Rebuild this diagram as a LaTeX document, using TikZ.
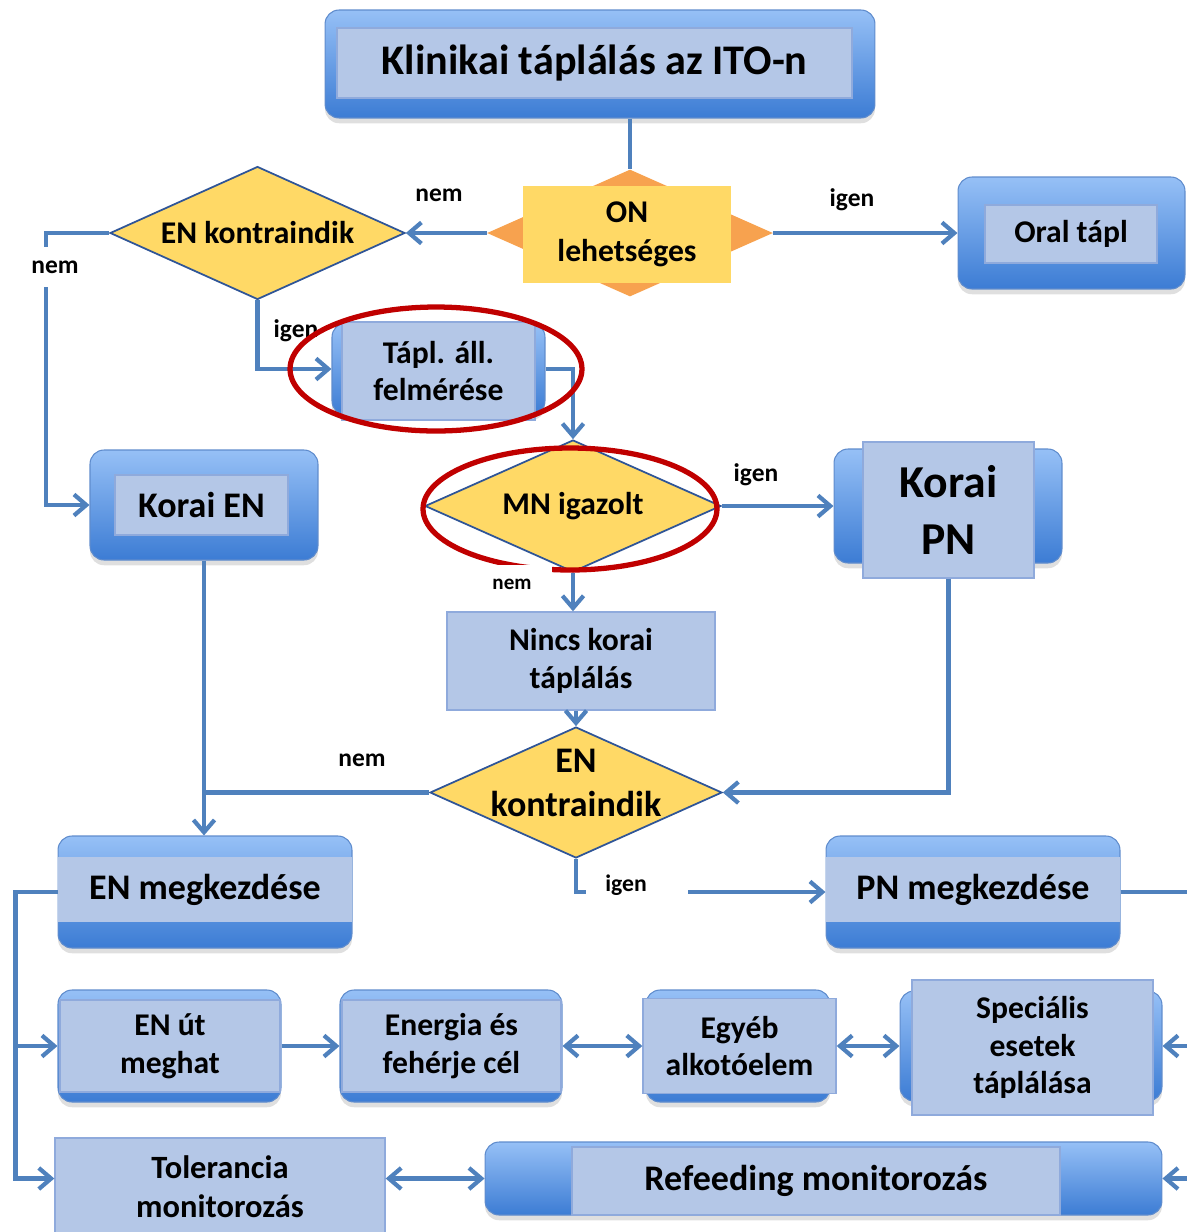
\documentclass[tikz,border=0pt]{standalone}
\usepackage{fontspec}
\setmainfont{Carlito}
\usetikzlibrary{arrows.meta,shapes.geometric,shadows}
\definecolor{linec}{RGB}{79,129,189}
\definecolor{boxtop}{RGB}{150,192,246}
\definecolor{boxbot}{RGB}{60,124,212}
\definecolor{boxline}{RGB}{95,140,205}
\definecolor{innerc}{RGB}{180,199,231}
\definecolor{innerline}{RGB}{143,170,220}
\definecolor{yel}{RGB}{255,217,102}
\definecolor{dline}{RGB}{47,85,151}
\definecolor{orng}{RGB}{247,162,79}
\definecolor{redline}{RGB}{192,0,0}
\begin{document}
\begin{tikzpicture}[x=0.02cm,y=-0.02cm,
 outerbox/.style={rectangle, rounded corners=0.28cm, top color=boxtop, bottom color=boxbot, draw=boxline, line width=0.6pt, inner sep=0pt, drop shadow={shadow xshift=0pt, shadow yshift=-3pt, opacity=0.25}},
 innerbox/.style={rectangle, fill=innerc, draw=innerline, line width=0.8pt, inner sep=0pt, align=center},
 decision/.style={diamond, fill=yel, draw=dline, line width=1pt, inner sep=0pt},
 conn/.style={draw=linec, line width=2.4pt},
 arr/.style={conn, -{Straight Barb[length=7pt,width=12pt]}},
 darr/.style={conn, {Straight Barb[length=7pt,width=12pt]}-{Straight Barb[length=7pt,width=12pt]}},
 lbl/.style={font=\bfseries\fontsize{14.5}{16}\selectfont, inner sep=2pt},
 t18/.style={font=\bfseries\fontsize{18}{21.5}\selectfont, align=center},
 t20/.style={font=\bfseries\fontsize{20.5}{24}\selectfont, align=center}]
\useasboundingbox (0,0) rectangle (1187,1232);
\clip (0,0) rectangle (1187,1232);

% title
\node[outerbox, minimum width=11cm, minimum height=2.16cm] (titleo) at (600,64) {};
\node[innerbox, minimum width=10.3cm, minimum height=1.4cm, font=\bfseries\fontsize{24}{28}\selectfont] (title) at (594.5,63) {Klinikai táplálás az ITO-n};

% ON
\node[diamond, fill=orng, inner sep=0pt, minimum width=5.72cm, minimum height=2.54cm] (on) at (630,233) {};
\node[rectangle, fill=yel, inner sep=0pt, minimum width=4.16cm, minimum height=1.94cm, font=\bfseries\fontsize{18}{22}\selectfont, align=center] (onbox) at (627,234.5) {ON\\lehetséges};

% Oral
\node[outerbox, minimum width=4.54cm, minimum height=2.24cm] (oralo) at (1071.5,233) {};
\node[innerbox, minimum width=3.44cm, minimum height=1.16cm, t18] (oral) at (1071,234) {Oral tápl};

% EN kontraindik 1
\node[decision, minimum width=5.9cm, minimum height=2.66cm, label={[t18]center:EN kontraindik}] (en1) at (257.5,233) {};

% igen label near Tapl (partly covered)
\node[lbl] (l4) at (296,331) {igen};

% Tapl
\node[outerbox, minimum width=4.26cm, minimum height=1.84cm] (taplo) at (438.5,369) {};
\node[innerbox, minimum width=3.86cm, minimum height=1.96cm, t18] (tapl) at (438.5,371) {Tápl. áll.\\felmérése};

% MN
\node[decision, minimum width=5.92cm, minimum height=2.64cm, label={[t18]center:MN igazolt}] (mn) at (573,506) {};

% Korai PN
\node[outerbox, minimum width=4.56cm, minimum height=2.28cm] (kpno) at (948,506) {};
\node[innerbox, minimum width=3.42cm, minimum height=2.72cm, font=\bfseries\fontsize{26}{32}\selectfont, align=center] (kpn) at (948.5,510) {Korai\\PN};

% Korai EN
\node[outerbox, minimum width=4.56cm, minimum height=2.2cm] (keno) at (204,505) {};
\node[innerbox, minimum width=3.46cm, minimum height=1.2cm, t20] (ken) at (201.5,505) {Korai EN};

% Nincs
\node[innerbox, minimum width=5.36cm, minimum height=1.96cm, t18] (nincs) at (581,661) {Nincs korai\\táplálás};

% EN kontraindik 2
\node[decision, minimum width=5.84cm, minimum height=2.62cm, label={[font=\bfseries\fontsize{20.5}{25}\selectfont, align=center, yshift=0.2cm]center:EN\\kontraindik}] (en2) at (576,792.5) {};

% EN / PN megkezdese
\node[outerbox, minimum width=5.88cm, minimum height=2.24cm] (enso) at (205,892) {};
\node[innerbox, draw=none, minimum width=5.88cm, minimum height=1.3cm, t20] (ens) at (205,889.5) {EN megkezdése};
\node[outerbox, minimum width=5.88cm, minimum height=2.24cm] (pnso) at (973,892) {};
\node[innerbox, draw=none, minimum width=5.88cm, minimum height=1.3cm, t20] (pns) at (973,889.5) {PN megkezdése};

% row 1
\node[outerbox, minimum width=4.46cm, minimum height=2.24cm] (enuto) at (169.5,1046) {};
\node[innerbox, minimum width=4.4cm, minimum height=1.84cm, t18] (enut) at (170,1046) {EN út\\meghat};
\node[outerbox, minimum width=4.44cm, minimum height=2.24cm] (energiao) at (451,1046) {};
\node[innerbox, minimum width=4.38cm, minimum height=1.84cm, t18] (energia) at (451.5,1046) {Energia és\\fehérje cél};
\node[outerbox, minimum width=3.68cm, minimum height=2.24cm] (egyebo) at (738,1046) {};
\node[innerbox, minimum width=3.86cm, minimum height=1.9cm, t18] (egyeb) at (739.5,1046) {Egyéb\\alkotóelem};
\node[outerbox, minimum width=5.24cm, minimum height=2.2cm] (speco) at (1031,1046) {};
\node[innerbox, minimum width=4.82cm, minimum height=2.7cm, t18] (spec) at (1032.5,1047.5) {Speciális\\esetek\\táplálása};

% row 2
\node[innerbox, minimum width=6.6cm, minimum height=1.96cm, font=\bfseries\fontsize{18.5}{22}\selectfont] (tol) at (220,1187) {Tolerancia\\monitorozás};
\node[outerbox, minimum width=13.54cm, minimum height=1.46cm] (refo) at (823.5,1178.5) {};
\node[innerbox, minimum width=9.76cm, minimum height=1.36cm, t20] (ref) at (816,1181) {Refeeding monitorozás};

% connectors
\draw[conn] (on.north |- titleo.south) -- (on.north);
\draw[arr] (on.west) -- (en1.east);
\draw[arr] (on.east) -- (oralo.west);
\draw[arr] (en1.west) -- ++(-63,0) |- (keno.west);
\draw[arr] (en1.south) |- (taplo.west);
\draw[arr] (taplo.east) -| (mn.north);
\draw[arr] (mn.east) -- (kpno.west);
\draw[arr] (mn.south) -- (mn.south |- nincs.north);
\draw[arr] (en2.north |- nincs.south) -- (en2.north);
\draw[arr] (kpn.south) |- (en2.east);
\draw[arr] (keno.south) -- (keno.south |- enso.north);
\draw[conn] (en2.west) -- (en2.west -| keno.south);
\draw[arr] (en2.south) |- (pnso.west);
\draw[arr] (enso.west) -- ++(-42,0) |- (tol.west |- refo.west);
\draw[arr] (enso.west) -- ++(-42,0) |- (enuto.west);
\draw[arr] (enuto.east) -- (energiao.west);
\draw[darr] (energiao.east) -- (egyeb.west);
\draw[darr] (egyeb.east) -- (speco.west);
\draw[darr] (tol.east |- refo.west) -- (refo.west);
\draw[arr] (pnso.east) -- ++(80,0) |- (speco.east);
\draw[arr] (pnso.east) -- ++(80,0) |- (refo.east);

% labels
\node[lbl] (l1) at (439,195) {nem};
\node[lbl] (l2) at (852,200) {igen};
\node[lbl, fill=white, minimum width=1cm, minimum height=0.8cm] (l3) at (55,267) {nem};
\node[lbl] (l5) at (756,475) {igen};
\node[lbl] (l7) at (362,760) {nem};
\fill[white] (586,866) rectangle (688,910);
\node[lbl, font=\bfseries\fontsize{13.5}{15}\selectfont] (l8) at (626,885) {igen};

% red ellipses
\draw[redline, line width=3pt] (436,369) ellipse [x radius=2.92cm, y radius=1.24cm];
\draw[redline, line width=3pt] (570,509) ellipse [x radius=2.94cm, y radius=1.22cm];

\node[lbl, font=\bfseries\fontsize{12}{14}\selectfont, fill=white, minimum width=1.6cm, minimum height=0.78cm] (l6) at (512,584) {nem};
\end{tikzpicture}
\end{document}
